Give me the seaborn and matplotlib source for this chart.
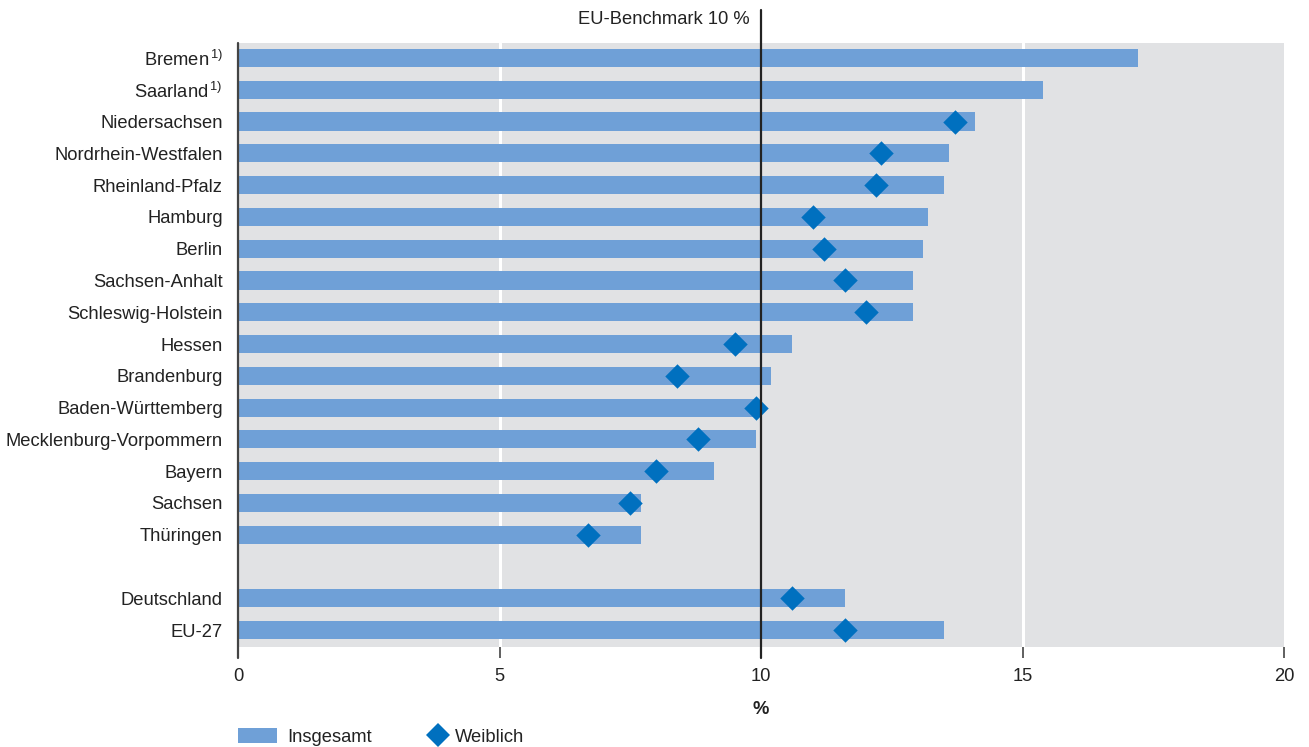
import matplotlib
matplotlib.use("Agg")
import matplotlib.pyplot as plt
from matplotlib.patches import Patch
from matplotlib.lines import Line2D
import seaborn as sns
import pandas as pd
import numpy as np

regions = ["Bremen$^{\\,1)}$", "Saarland$^{\\,1)}$", "Niedersachsen", "Nordrhein-Westfalen",
           "Rheinland-Pfalz", "Hamburg", "Berlin", "Sachsen-Anhalt", "Schleswig-Holstein",
           "Hessen", "Brandenburg", "Baden-Württemberg", "Mecklenburg-Vorpommern",
           "Bayern", "Sachsen", "Thüringen", " ", "Deutschland", "EU-27"]
insgesamt = [17.2, 15.4, 14.1, 13.6, 13.5, 13.2, 13.1, 12.9, 12.9, 10.6, 10.2, 9.9, 9.9,
             9.1, 7.7, 7.7, np.nan, 11.6, 13.5]
weiblich = [np.nan, np.nan, 13.7, 12.3, 12.2, 11.0, 11.2, 11.6, 12.0, 9.5, 8.4, 9.9, 8.8,
            8.0, 7.5, 6.7, np.nan, 10.6, 11.6]
xticks = [0, 5, 10, 15, 20]
benchmark = 10
benchmark_label = "EU-Benchmark 10 %"

df = pd.DataFrame({"region": regions, "Insgesamt": insgesamt, "Weiblich": weiblich})

sns.set_theme(style="white")
plt.rcParams["font.family"] = ["Liberation Sans", "DejaVu Sans"]
plt.rcParams["mathtext.fontset"] = "custom"
plt.rcParams["mathtext.rm"] = "Liberation Sans"
plt.rcParams["mathtext.it"] = "Liberation Sans"

FS = 13.2
bar_color = "#6fa0d7"
dia_color = "#0070bf"
text_color = "#222222"

fig = plt.figure(figsize=(13.09, 7.47), dpi=100)
ax = fig.add_axes([238 / 1309, 1 - 647 / 747, (1284 - 238) / 1309, (647 - 43) / 747])
ax.set_facecolor("#e1e2e4")

for x in [5, 15]:
    ax.axvline(x, color="white", lw=2.2, zorder=0.5)

sns.barplot(data=df, y="region", x="Insgesamt", order=regions, color=bar_color,
            width=0.57, saturation=1, ax=ax, zorder=2, linewidth=0, edgecolor="none")
ypos = np.arange(len(regions))
ax.scatter(df["Weiblich"], ypos, marker="D", s=155, color=dia_color, zorder=4,
           linewidths=0)

n = len(regions)
ax.set_xlim(0, 20)
ax.set_ylim(n - 0.47, -0.47)
ax.set_xticks(xticks)
ax.set_xticklabels([str(t) for t in xticks], fontsize=FS, color=text_color)
ax.tick_params(axis="x", length=8, width=1.2, color="#444444", pad=7, bottom=True)
ax.tick_params(axis="y", length=0, pad=11, labelsize=FS, labelcolor=text_color)
ax.set_ylabel("")
ax.set_xlabel("%", fontsize=FS, fontweight="bold", color=text_color, labelpad=12)

for s in ["top", "right", "bottom", "left"]:
    ax.spines[s].set_visible(False)

# left axis line and benchmark line extending beyond axes
ax.plot([0, 0], [-0.47, n - 0.47 + 0.35], color="#444444", lw=1.6,
        clip_on=False, zorder=5)
ax.plot([benchmark, benchmark], [-1.52, n - 0.47 + 0.35], color="#222222",
        lw=1.6, clip_on=False, zorder=5)
ax.text(benchmark - 0.22, -1.2, benchmark_label, ha="right", va="center",
        fontsize=FS, color=text_color)

h1 = [Patch(facecolor=bar_color, edgecolor="none", label="Insgesamt")]
h2 = [Line2D([0], [0], marker="D", color="none", markerfacecolor=dia_color,
             markeredgewidth=0, markersize=12, label="Weiblich")]
leg1 = fig.legend(handles=h1, loc="center left", bbox_to_anchor=(238 / 1309, 1 - 737 / 747),
                  frameon=False, fontsize=FS, handlelength=2.15, handleheight=0.9,
                  handletextpad=0.55, borderpad=0, borderaxespad=0, labelcolor=text_color)
leg2 = fig.legend(handles=h2, loc="center left", bbox_to_anchor=(428 / 1309, 1 - 737 / 747),
                  frameon=False, fontsize=FS, handlelength=1.1,
                  handletextpad=0.35, borderpad=0, borderaxespad=0, labelcolor=text_color)

fig.savefig("out.png", dpi=100)
